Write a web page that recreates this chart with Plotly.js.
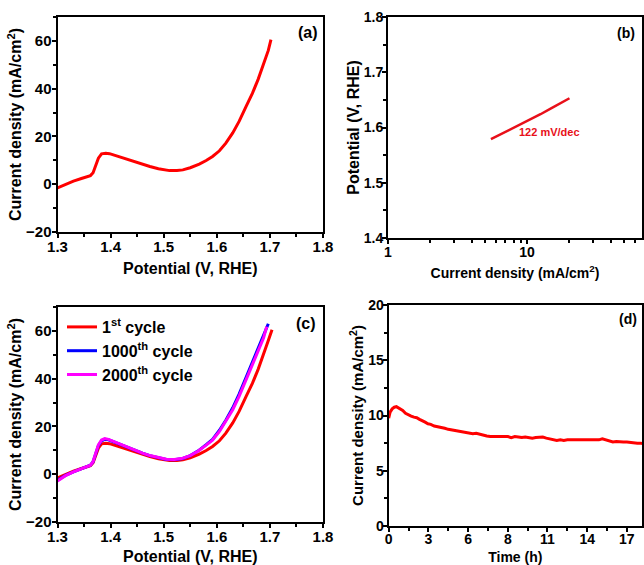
<!DOCTYPE html>
<html>
<head>
<meta charset="utf-8">
<script src="https://cdn.plot.ly/plotly-3.0.1.min.js"></script>
<style>html,body{margin:0;padding:0;background:#fff;}#chart{width:644px;height:565px;}</style>
</head>
<body>
<div id="chart"></div>
<script>
// ---- (a) LSV curve ----
const potA = [1.300,1.315,1.330,1.345,1.355,1.362,1.367,1.372,1.377,1.383,1.391,1.398,1.405,1.420,1.442,1.460,1.474,1.490,1.511,1.525,1.536,1.550,1.567,1.580,1.592,1.605,1.617,1.630,1.642,1.655,1.667,1.678,1.688,1.697,1.702];
const curA = [-1.5,0.0,1.3,2.4,3.0,3.6,4.8,8.1,10.9,12.7,13.0,12.8,12.3,11.2,9.5,8.3,7.4,6.5,5.7,5.7,6.0,6.9,8.4,9.9,11.6,14.0,17.2,21.5,26.3,32.5,38.0,44.0,50.0,56.0,60.5];

// ---- (b) Tafel plot ----
const tafelJ = [5.5,6.5,8,10,12.5,15,18,20.2];
const tafelE = [1.579,1.588,1.600,1.612,1.624,1.635,1.646,1.653];
const tafelLabel = '122 mV/dec';

// ---- (c) cycling LSV ----
const cycleNames = ['1<sup>st</sup> cycle','1000<sup>th</sup> cycle','2000<sup>th</sup> cycle'];
const potC1 = [1.300,1.315,1.330,1.345,1.355,1.362,1.367,1.372,1.377,1.383,1.391,1.398,1.405,1.420,1.442,1.460,1.474,1.490,1.511,1.525,1.536,1.550,1.567,1.580,1.592,1.605,1.617,1.630,1.642,1.655,1.667,1.678,1.688,1.697,1.704];
const curC1 = [-1.5,0.0,1.3,2.4,3.0,3.6,4.8,8.1,10.9,12.7,13.0,12.8,12.3,11.2,9.5,8.3,7.4,6.5,5.7,5.7,6.0,6.9,8.4,9.9,11.6,14.0,17.2,21.5,26.3,32.5,38.0,44.0,50.0,56.0,60.5];
const potC2 = [1.300,1.315,1.330,1.345,1.355,1.362,1.367,1.372,1.377,1.383,1.389,1.396,1.405,1.420,1.442,1.460,1.474,1.490,1.505,1.520,1.536,1.550,1.565,1.580,1.592,1.605,1.617,1.630,1.642,1.655,1.667,1.678,1.688,1.697];
const curC2 = [-2.5,-0.5,1.0,2.3,3.0,3.8,5.2,8.8,12.0,14.0,14.6,14.4,13.6,12.2,10.2,8.8,7.8,6.9,6.2,6.1,6.6,7.8,9.8,12.4,14.6,18.4,22.6,27.8,33.5,40.5,47.0,53.0,58.5,63.0];
const potC3 = [1.300,1.315,1.330,1.345,1.355,1.362,1.367,1.372,1.377,1.383,1.389,1.396,1.405,1.420,1.442,1.460,1.474,1.490,1.505,1.520,1.536,1.550,1.565,1.580,1.592,1.605,1.617,1.630,1.642,1.655,1.667,1.678,1.688,1.694];
const curC3 = [-2.8,-0.6,1.0,2.3,3.0,3.8,5.3,9.0,12.3,14.3,14.9,14.6,13.8,12.3,10.2,8.8,7.8,6.9,6.3,6.2,6.7,7.8,9.7,12.2,14.3,17.9,22.0,27.0,32.6,39.3,45.7,51.5,57.0,61.8];

// ---- (d) chronoamperometry ----
const timeD = [0,0.1,0.25,0.4,0.55,0.7,0.85,1.0,1.2,1.4,1.6,1.8,2.0,2.2,2.4,2.6,2.8,3.0,3.25,3.5,3.75,4.0,4.25,4.5,4.75,5.0,5.25,5.5,5.75,6.0,6.25,6.5,6.75,7.0,7.25,7.5,7.75,8.0,8.25,8.5,8.75,9.0,9.25,9.5,9.75,10.0,10.25,10.5,10.75,11.0,11.25,11.5,11.75,12.0,12.25,12.5,12.75,13.0,13.25,13.5,13.75,14.0,14.25,14.5,14.75,15.0,15.25,15.5,15.75,16.0,16.25,16.5,16.75,17.0,17.25,17.5,17.75,18.0,18.1];
const curD = [9.75,10.3,10.6,10.75,10.8,10.7,10.55,10.45,10.2,10.05,9.95,9.85,9.8,9.65,9.55,9.4,9.25,9.2,9.05,9.0,8.95,8.85,8.75,8.7,8.6,8.6,8.55,8.5,8.45,8.35,8.4,8.3,8.2,8.15,8.1,8.1,8.05,8.1,8.05,8.1,8.0,8.1,8.05,8.0,8.05,8.0,7.95,8.0,8.05,8.05,7.95,7.9,7.85,7.75,7.8,7.75,7.8,7.8,7.75,7.8,7.75,7.8,7.75,7.8,7.75,7.8,7.9,7.8,7.65,7.6,7.65,7.6,7.6,7.6,7.55,7.55,7.5,7.5,7.45];
const timeTickVals = [0,17/6,34/6,51/6,68/6,85/6,17];
const timeTickText = ['0','3','6','8','11','14','17'];
const timeMinorVals = [17/12,51/12,85/12,119/12,153/12,187/12,221/12];

const panelLabels = ['(a)','(b)','(c)','(d)'];

const W = 644, H = 565;
const px = v => v / W;
const py = v => 1 - v / H;
const FF = 'Liberation Sans, Arial, sans-serif';
const tickFont = s => ({family: FF, size: s, color: '#000', weight: 'bold'});
const titleFont = s => ({family: FF, size: s, color: '#000', weight: 'bold'});
const minorT = d => ({dtick: d, ticks: 'outside', ticklen: 3, tickwidth: 2, tickcolor: '#000'});

function xaxisBase(extra) {
  return Object.assign({
    showline: true, linecolor: '#000', linewidth: 2, mirror: true,
    ticks: 'outside', ticklen: 4, tickwidth: 2, tickcolor: '#000',
    showgrid: false, zeroline: false, tickfont: tickFont(15), ticklabelstandoff: -4
  }, extra);
}
function yaxisBase(extra) {
  return Object.assign({
    showline: true, linecolor: '#000', linewidth: 2, mirror: true,
    ticks: 'outside', ticklen: 4, tickwidth: 2, tickcolor: '#000',
    showgrid: false, zeroline: false, tickfont: tickFont(15), ticklabelstandoff: -3
  }, extra);
}

const traces = [
  {x: potA, y: curA, xaxis: 'x', yaxis: 'y', mode: 'lines', line: {color: '#ff0000', width: 3}, showlegend: false},
  {x: tafelJ, y: tafelE, xaxis: 'x2', yaxis: 'y2', mode: 'lines', line: {color: '#e8101a', width: 2.5}, showlegend: false},
  {x: potC1, y: curC1, xaxis: 'x3', yaxis: 'y3', mode: 'lines', name: cycleNames[0], line: {color: '#ff0000', width: 3}},
  {x: potC2, y: curC2, xaxis: 'x3', yaxis: 'y3', mode: 'lines', name: cycleNames[1], line: {color: '#0000ff', width: 3}},
  {x: potC3, y: curC3, xaxis: 'x3', yaxis: 'y3', mode: 'lines', name: cycleNames[2], line: {color: '#ff00ff', width: 3}},
  {x: timeD, y: curD, xaxis: 'x4', yaxis: 'y4', mode: 'lines', line: {color: '#ff0000', width: 3}, showlegend: false}
];

const ytitle = 'Current density (mA/cm<sup>2</sup>)';
const xtitleP = 'Potential (V, RHE)';

const layout = {
  width: W, height: H,
  margin: {l: 0, r: 0, t: 0, b: 0},
  paper_bgcolor: '#fff', plot_bgcolor: '#fff',
  showlegend: true,
  legend: {x: px(62), y: py(310), xanchor: 'left', yanchor: 'top', bgcolor: 'rgba(0,0,0,0)',
           font: {family: FF, size: 16, color: '#000', weight: 'bold'}, itemwidth: 30, tracegroupgap: 0},
  xaxis: xaxisBase({domain: [px(57.5), px(323)], range: [1.3, 1.8], dtick: 0.1, tickformat: '.1f', anchor: 'y',
               minor: minorT(0.05),
               title: {text: xtitleP, font: titleFont(16), standoff: 9}}),
  yaxis: yaxisBase({domain: [py(232), py(17)], range: [-20, 70], dtick: 20, anchor: 'x',
               minor: minorT(10),
               title: {text: ytitle, font: titleFont(16), standoff: 0}}),
  xaxis2: xaxisBase({domain: [px(388), px(642)], type: 'log', range: [0, 1.827], dtick: 1, anchor: 'y2',
               minor: minorT('D1'),
               tickfont: tickFont(14),
               title: {text: ytitle, font: titleFont(14), standoff: 9}}),
  yaxis2: yaxisBase({domain: [py(238), py(17)], range: [1.4, 1.8], dtick: 0.1, tickformat: '.1f', anchor: 'x2',
               minor: minorT(0.05),
               tickfont: tickFont(14), ticklabelstandoff: -4,
               title: {text: xtitleP, font: titleFont(16), standoff: 0}}),
  xaxis3: xaxisBase({domain: [px(57.5), px(323)], range: [1.3, 1.8], dtick: 0.1, tickformat: '.1f', anchor: 'y3',
               minor: minorT(0.05),
               title: {text: xtitleP, font: titleFont(16), standoff: 8}}),
  yaxis3: yaxisBase({domain: [py(522), py(307)], range: [-20, 70], dtick: 20, anchor: 'x3',
               minor: minorT(10),
               title: {text: ytitle, font: titleFont(16), standoff: 0}}),
  xaxis4: xaxisBase({domain: [px(388.7), px(642)], range: [0, 18.08], tickmode: 'array', tickvals: timeTickVals, ticktext: timeTickText, anchor: 'y4',
               minor: {tickmode: 'array', tickvals: timeMinorVals, ticks: 'outside', ticklen: 3, tickwidth: 2, tickcolor: '#000'},
               tickfont: tickFont(14), ticklabelstandoff: -5,
               title: {text: 'Time (h)', font: titleFont(14), standoff: 7}}),
  yaxis4: yaxisBase({domain: [py(526), py(305)], range: [0, 20], dtick: 5, anchor: 'x4',
               minor: minorT(2.5),
               tickfont: tickFont(14), ticklabelstandoff: -4,
               title: {text: ytitle, font: titleFont(15), standoff: 1}}),
  annotations: [
    {text: panelLabels[0], xref: 'paper', yref: 'paper', x: px(308), y: py(33), xanchor: 'center', yanchor: 'middle', showarrow: false, font: titleFont(16)},
    {text: panelLabels[1], xref: 'paper', yref: 'paper', x: px(626), y: py(33), xanchor: 'center', yanchor: 'middle', showarrow: false, font: titleFont(14)},
    {text: panelLabels[2], xref: 'paper', yref: 'paper', x: px(306), y: py(323), xanchor: 'center', yanchor: 'middle', showarrow: false, font: titleFont(16)},
    {text: panelLabels[3], xref: 'paper', yref: 'paper', x: px(628), y: py(319), xanchor: 'center', yanchor: 'middle', showarrow: false, font: titleFont(14)},
    {text: tafelLabel, xref: 'paper', yref: 'paper', x: px(549), y: py(132), xanchor: 'center', yanchor: 'middle', showarrow: false,
     font: {family: FF, size: 11, color: '#e8101a', weight: 'bold'}}
  ]
};

Plotly.newPlot('chart', traces, layout, {staticPlot: true, displayModeBar: false});
</script>
</body>
</html>
